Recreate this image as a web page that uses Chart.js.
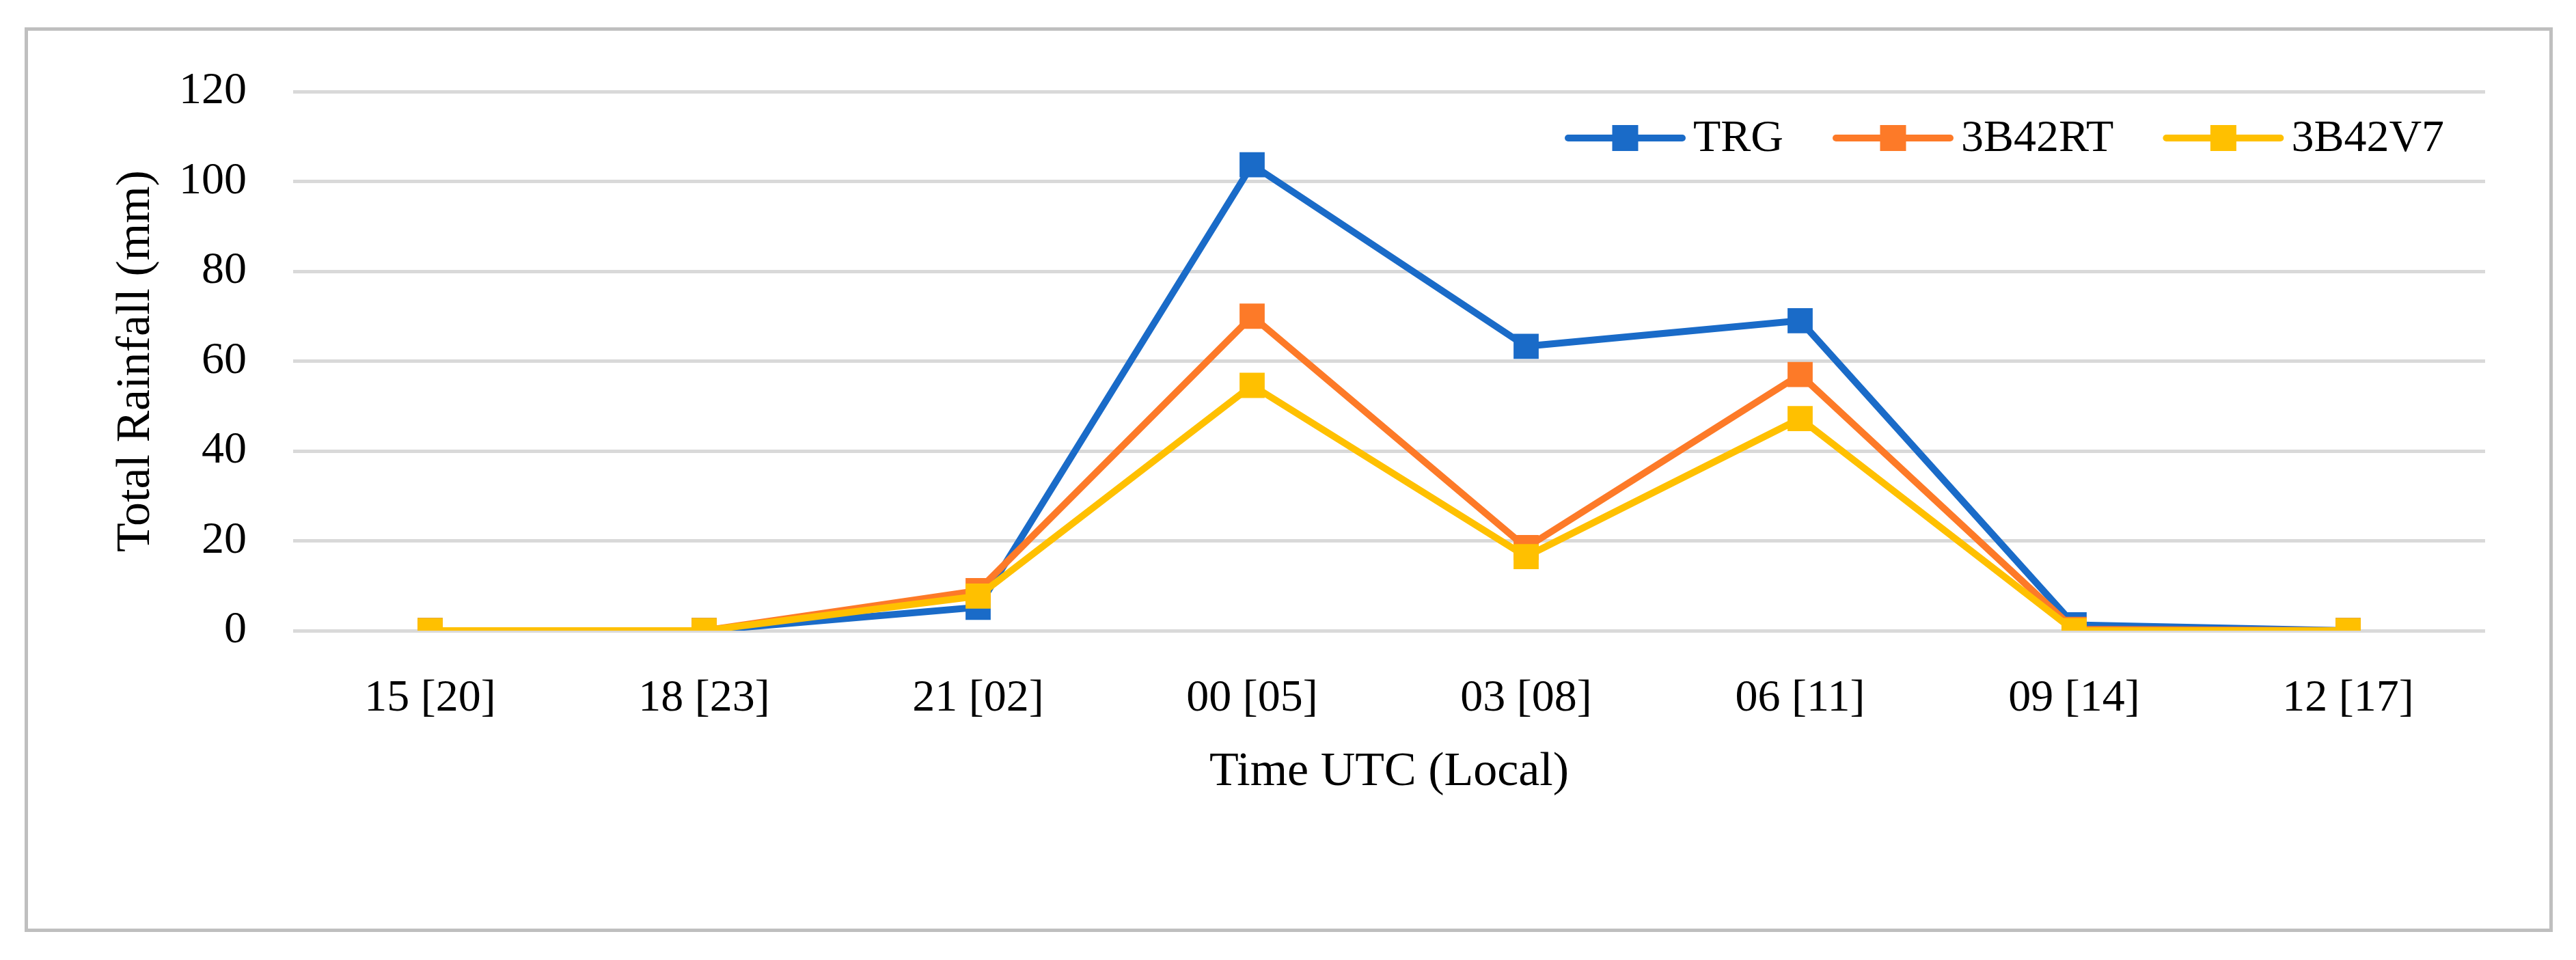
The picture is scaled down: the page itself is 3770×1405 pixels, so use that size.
<!DOCTYPE html>
<html>
<head>
<meta charset="utf-8">
<title>Total Rainfall</title>
<script src="https://cdn.jsdelivr.net/npm/chart.js@4/dist/chart.umd.min.js"></script>
<style>
    body { margin: 0; background: #fff; }
    #frame {
        position: absolute;
        left: 36px; top: 40px;
        width: 3700px; height: 1324px;
        border: 5px solid #bfbfbf;
        box-sizing: border-box;
        pointer-events: none;
    }
    #chart { position: absolute; left: 0; top: 0; }
</style>
</head>
<body>
<canvas id="chart" width="3770" height="1405"></canvas>
<div id="frame"></div>
<script>
//data
const timeLabels = ['15 [20]', '18 [23]', '21 [02]', '00 [05]', '03 [08]', '06 [11]', '09 [14]', '12 [17]'];
const trg = [0, 0, 5.2, 103.7, 63.3, 69.0, 1.3, 0];
const rt3b42 = [0, 0, 8.9, 70.0, 18.5, 57.0, 0.3, 0];
const v73b42 = [0, 0, 7.7, 54.6, 16.5, 47.2, 0, 0];
const yTicks = [0, 20, 40, 60, 80, 100, 120];

const FONT = "'Liberation Serif', 'DejaVu Serif', serif";

//legend drawn inside the plot, top right, line + square like excel
const lineLegend = {
    id: 'lineLegend',
    afterDraw(chart) {
        const ctx = chart.ctx;
        const y = 202;
        let x = 2295;
        ctx.save();
        ctx.font = '66px ' + FONT;
        ctx.textBaseline = 'middle';
        ctx.textAlign = 'left';
        chart.data.datasets.forEach(ds => {
            //line
            ctx.strokeStyle = ds.borderColor;
            ctx.lineWidth = 10;
            ctx.lineCap = 'round';
            ctx.beginPath();
            ctx.moveTo(x, y);
            ctx.lineTo(x + 167, y);
            ctx.stroke();
            //marker
            ctx.fillStyle = ds.backgroundColor;
            ctx.fillRect(x + 83.5 - 19, y - 19, 38, 38);
            //label
            ctx.fillStyle = '#000';
            ctx.fillText(ds.label, x + 183, y + 2);
            x += 183 + ctx.measureText(ds.label).width + 77;
        });
        ctx.restore();
    }
};

function series(label, values, color, order) {
    return {
        label: label,
        data: values,
        borderColor: color,
        backgroundColor: color,
        borderWidth: 10,
        pointStyle: 'rect',
        pointRadius: 26,
        pointBorderWidth: 0,
        pointBackgroundColor: color,
        tension: 0,
        order: order
    };
}

const ctx = document.getElementById('chart').getContext('2d');
new Chart(ctx, {
    type: 'line',
    data: {
        labels: timeLabels,
        datasets: [
            series('TRG', trg, '#1a6bc8', 3),
            series('3B42RT', rt3b42, '#fd7a28', 2),
            series('3B42V7', v73b42, '#ffc000', 1)
        ]
    },
    options: {
        responsive: false,
        animation: false,
        layout: {
            padding: { left: 120, right: 133, top: 134, bottom: 222 }
        },
        plugins: {
            legend: { display: false },
            tooltip: { enabled: false }
        },
        scales: {
            x: {
                offset: true,
                grid: { display: false },
                border: { display: false },
                ticks: {
                    color: '#000',
                    padding: 52,
                    maxRotation: 0,
                    font: { family: FONT, size: 66 }
                },
                title: {
                    display: true,
                    text: 'Time UTC (Local)',
                    color: '#000',
                    padding: { top: 0, bottom: 10 },
                    font: { family: FONT, size: 70 }
                },
                afterFit(scale) { scale.height = 260; }
            },
            y: {
                min: 0,
                max: 120,
                afterBuildTicks(scale) {
                    scale.ticks = yTicks.map(v => ({ value: v }));
                },
                grid: {
                    color: '#d9d9d9',
                    lineWidth: 5,
                    drawTicks: false
                },
                border: { display: false },
                ticks: {
                    color: '#000',
                    padding: 68,
                    font: { family: FONT, size: 66 }
                },
                title: {
                    display: true,
                    text: 'Total Rainfall (mm)',
                    color: '#000',
                    padding: { top: 38, bottom: 0 },
                    font: { family: FONT, size: 70 }
                },
                afterFit(scale) { scale.width = 309; }
            }
        }
    },
    plugins: [lineLegend]
});
</script>
</body>
</html>
